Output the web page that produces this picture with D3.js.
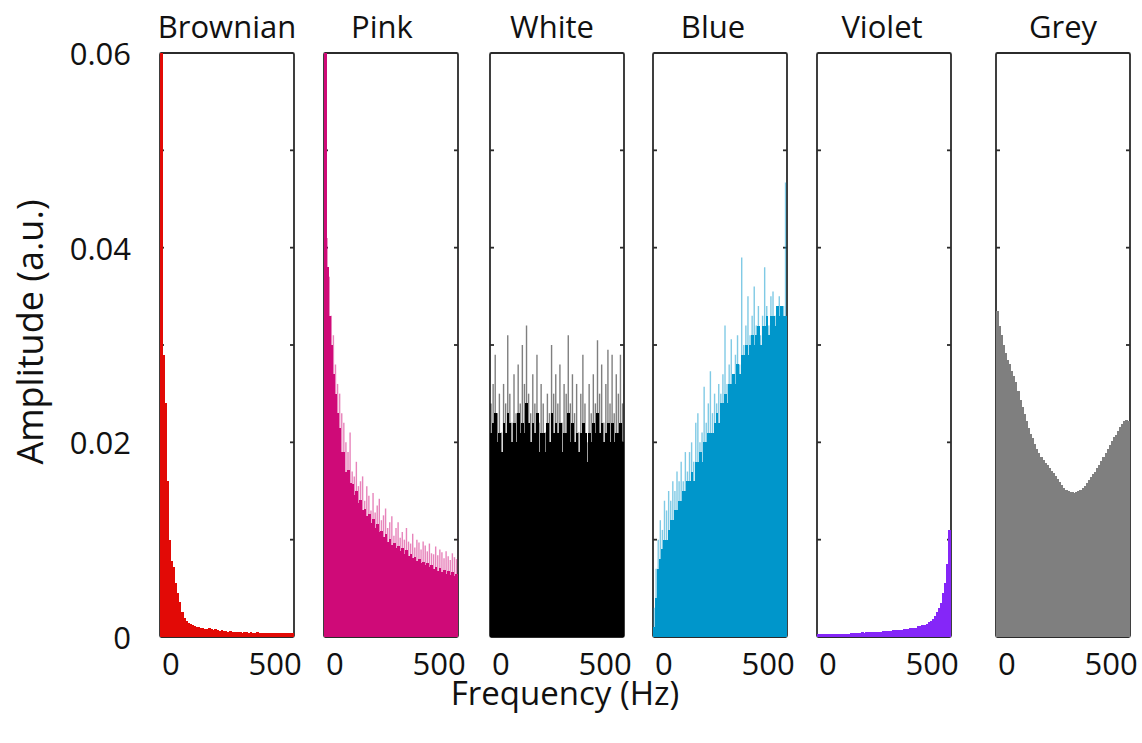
<!DOCTYPE html>
<html>
<head>
<meta charset="utf-8">
<script src="https://cdn.jsdelivr.net/npm/d3@7.9.0/dist/d3.min.js"></script>
<style>
  body { margin: 0; background: #fff; }
  text { font-family: "Open Sans", "DejaVu Sans", sans-serif; fill: #111; }
</style>
</head>
<body>
<svg id="chart" width="1142" height="743"></svg>
<script>
// spectra, one value per 10 Hz bin starting at -52 Hz
const binStart = -52;
const binStep = 10;

const brownian = [0.060, 0.029, 0.024, 0.016, 0.010, 0.0078, 0.0072, 0.0055, 0.0045, 0.0036,
  0.0026, 0.0020, 0.0016, 0.0014, 0.0013, 0.0012, 0.0011, 0.0010, 0.0010, 0.0009,
  0.0009, 0.0008, 0.0008, 0.0009, 0.0008, 0.0007, 0.0008, 0.0007, 0.0006, 0.0007,
  0.0006, 0.0006, 0.0005, 0.0006, 0.0005, 0.0005, 0.0005, 0.0005, 0.0005, 0.0004,
  0.0005, 0.0005, 0.0004, 0.0005, 0.0004, 0.0004, 0.0005, 0.0004, 0.0004, 0.0004,
  0.0004, 0.0004, 0.0004, 0.0004, 0.0004, 0.0004, 0.0004, 0.0004, 0.0004, 0.0004,
  0.0004, 0.0004, 0.0004, 0.0004, 0.0005];

const pinkPeak = [0.060, 0.041, 0.037, 0.033, 0.031, 0.028, 0.026, 0.025, 0.023, 0.022,
  0.020, 0.019, 0.021, 0.017, 0.0165, 0.018, 0.0155, 0.016, 0.0165, 0.014,
  0.0155, 0.0145, 0.013, 0.0148, 0.0128, 0.0135, 0.0142, 0.012, 0.0125, 0.0132,
  0.0112, 0.0118, 0.0124, 0.0104, 0.0112, 0.0118, 0.0102, 0.0108, 0.0100, 0.0112,
  0.0098, 0.0096, 0.0106, 0.0092, 0.0100, 0.0097, 0.0090, 0.0098, 0.0094, 0.0088,
  0.0096, 0.0086, 0.0085, 0.0093, 0.0084, 0.0090, 0.0087, 0.0081, 0.0088, 0.0083,
  0.0079, 0.0086, 0.0082, 0.0080, 0.0385];
const pinkBody = [0.060, 0.038, 0.033, 0.030, 0.027, 0.025, 0.023, 0.0215, 0.019, 0.019,
  0.017, 0.0172, 0.0158, 0.0157, 0.0146, 0.015, 0.0138, 0.0141, 0.013, 0.0132,
  0.0124, 0.0126, 0.0117, 0.0121, 0.0112, 0.0116, 0.0108, 0.0109, 0.0103, 0.0106,
  0.0098, 0.0101, 0.0095, 0.0097, 0.0091, 0.0094, 0.0088, 0.0091, 0.0085, 0.0089,
  0.0083, 0.0085, 0.0081, 0.0082, 0.0078, 0.0080, 0.0076, 0.0077, 0.0074, 0.0076,
  0.0072, 0.0074, 0.0070, 0.0072, 0.0068, 0.0071, 0.0067, 0.0069, 0.0065, 0.0068,
  0.0064, 0.0067, 0.0063, 0.0065, 0.0064];

const whitePeak = [0.024, 0.026, 0.029, 0.023, 0.025, 0.021, 0.026, 0.024, 0.031, 0.025,
  0.022, 0.027, 0.023, 0.028, 0.024, 0.030, 0.026, 0.032, 0.025, 0.023,
  0.027, 0.024, 0.029, 0.022, 0.026, 0.024, 0.021, 0.025, 0.023, 0.030,
  0.025, 0.027, 0.024, 0.028, 0.022, 0.026, 0.025, 0.031, 0.024, 0.027,
  0.023, 0.026, 0.021, 0.025, 0.029, 0.024, 0.020, 0.026, 0.023, 0.027,
  0.024, 0.0305, 0.025, 0.028, 0.022, 0.026, 0.0295, 0.024, 0.029, 0.023,
  0.027, 0.025, 0.029, 0.024, 0.026];
const whiteBody = [0.021, 0.022, 0.023, 0.020, 0.021, 0.019, 0.022, 0.021, 0.023, 0.022,
  0.020, 0.022, 0.020, 0.023, 0.021, 0.022, 0.021, 0.024, 0.022, 0.020,
  0.022, 0.021, 0.023, 0.019, 0.021, 0.021, 0.019, 0.022, 0.020, 0.023,
  0.021, 0.022, 0.021, 0.022, 0.019, 0.021, 0.021, 0.023, 0.020, 0.022,
  0.020, 0.021, 0.019, 0.021, 0.022, 0.021, 0.018, 0.021, 0.020, 0.022,
  0.021, 0.023, 0.021, 0.022, 0.020, 0.021, 0.022, 0.020, 0.022, 0.020,
  0.021, 0.021, 0.022, 0.020, 0.021];

const bluePeak = [0.003, 0.007, 0.010, 0.012, 0.011, 0.014, 0.013, 0.015, 0.014, 0.016,
  0.015, 0.017, 0.016, 0.018, 0.016, 0.019, 0.017, 0.019, 0.020, 0.018,
  0.022, 0.023, 0.020, 0.021, 0.0257, 0.022, 0.024, 0.0273, 0.023, 0.025,
  0.024, 0.026, 0.025, 0.027, 0.032, 0.026, 0.028, 0.0306, 0.027, 0.029,
  0.031, 0.028, 0.039, 0.030, 0.032, 0.035, 0.031, 0.033, 0.036, 0.032,
  0.034, 0.031, 0.033, 0.038, 0.034, 0.032, 0.035, 0.0355, 0.033, 0.034,
  0.035, 0.032, 0.034, 0.0467, 0.041];
const blueBody = [0.001, 0.004, 0.007, 0.008, 0.009, 0.010, 0.010, 0.011, 0.012, 0.012,
  0.013, 0.013, 0.014, 0.014, 0.015, 0.015, 0.016, 0.016, 0.017, 0.016,
  0.018, 0.018, 0.019, 0.018, 0.020, 0.020, 0.021, 0.021, 0.021, 0.022,
  0.023, 0.022, 0.024, 0.024, 0.025, 0.024, 0.026, 0.026, 0.027, 0.026,
  0.028, 0.027, 0.029, 0.029, 0.030, 0.029, 0.030, 0.031, 0.030, 0.031,
  0.032, 0.030, 0.032, 0.032, 0.033, 0.031, 0.033, 0.033, 0.032, 0.034,
  0.033, 0.034, 0.033, 0.033, 0.032];

const violet = [0.0003, 0.0003, 0.0003, 0.0003, 0.0003, 0.0003, 0.0003, 0.0003, 0.0003, 0.0003,
  0.0003, 0.0003, 0.0003, 0.0003, 0.0003, 0.0003, 0.0004, 0.0004, 0.0004, 0.0004,
  0.0004, 0.0005, 0.0004, 0.0005, 0.0005, 0.0005, 0.0005, 0.0005, 0.0005, 0.0005,
  0.0005, 0.0006, 0.0006, 0.0006, 0.0006, 0.0006, 0.0007, 0.0007, 0.0007, 0.0007,
  0.0007, 0.0008, 0.0008, 0.0008, 0.0009, 0.0009, 0.0009, 0.0009, 0.0011, 0.0011,
  0.0012, 0.0012, 0.0013, 0.0015, 0.0016, 0.0018, 0.0022, 0.0026, 0.0030, 0.0035,
  0.0045, 0.0055, 0.0075, 0.011, 0.060];

const grey = [0.0335, 0.032, 0.031, 0.030, 0.0292, 0.0285, 0.028, 0.0273, 0.0268, 0.0262,
  0.0253, 0.0244, 0.0236, 0.0229, 0.0222, 0.0215, 0.0209, 0.0204, 0.0198, 0.0193,
  0.0189, 0.0185, 0.0182, 0.0179, 0.0177, 0.0174, 0.0171, 0.0168, 0.0165, 0.0162,
  0.0159, 0.0156, 0.0153, 0.0151, 0.0150, 0.0149, 0.0149, 0.0148, 0.0149, 0.0150,
  0.0151, 0.0153, 0.0155, 0.0158, 0.0161, 0.0164, 0.0167, 0.0170, 0.0174, 0.0177,
  0.0181, 0.0185, 0.0189, 0.0193, 0.0197, 0.0201, 0.0205, 0.0208, 0.0212, 0.0216,
  0.0219, 0.0222, 0.0223, 0.0222, 0.0220];

const names = ['Brownian', 'Pink', 'White', 'Blue', 'Violet', 'Grey'];
const colors = ['#e20a06', '#cf0a78', '#000000', '#0096cb', '#8526f8', '#7f7f7f'];
const peaks = [null, pinkPeak, whitePeak, bluePeak, null, null];
const bodies = [brownian, pinkBody, whiteBody, blueBody, violet, grey];

const yTicks = [0, 0.02, 0.04, 0.06];
const xTicks = [0, 500];

// layout
const panelLeft = [160, 324, 490, 653, 817, 996];
const titleX = [227, 382, 552, 713, 882, 1063];
const panelW = 134;
const plotTop = 53, plotBottom = 637;

const svg = d3.select('#chart');
const y = d3.scaleLinear().domain([0, 0.06]).range([plotBottom, plotTop]);

// y tick labels
svg.append('g')
  .selectAll('text')
  .data(yTicks)
  .join('text')
  .attr('x', 131)
  .attr('y', d => y(d))
  .attr('text-anchor', 'end')
  .attr('dominant-baseline', 'central')
  .attr('font-size', 31)
  .text(d => d === 0 ? '0' : d3.format('.2f')(d));

names.forEach((name, p) => {
  const x = d3.scaleLinear().domain([-52, 590]).range([panelLeft[p], panelLeft[p] + panelW]);
  const g = svg.append('g');

  const clipId = 'clip' + p;
  svg.append('clipPath').attr('id', clipId)
    .append('rect')
    .attr('x', panelLeft[p]).attr('y', plotTop - 2)
    .attr('width', panelW).attr('height', plotBottom - plotTop + 2);

  // frame
  g.append('rect')
    .attr('x', panelLeft[p]).attr('y', plotTop)
    .attr('width', panelW).attr('height', plotBottom - plotTop)
    .attr('rx', 1.5)
    .attr('fill', 'none')
    .attr('stroke', '#2b2b2b')
    .attr('stroke-width', 1.8);

  // inward ticks on both sides
  const tickVals = d3.range(1, 6).map(k => k * 0.01);
  g.append('g').selectAll('line')
    .data(tickVals.flatMap(v => [[0, v], [1, v]]))
    .join('line')
    .attr('x1', d => d[0] ? panelLeft[p] + panelW : panelLeft[p])
    .attr('x2', d => d[0] ? panelLeft[p] + panelW - 4 : panelLeft[p] + 4)
    .attr('y1', d => y(d[1]))
    .attr('y2', d => y(d[1]))
    .attr('stroke', '#2b2b2b')
    .attr('stroke-width', 1.8);

  const data = g.append('g').attr('clip-path', `url(#${clipId})`);

  // light spikes: thin lines at each bin
  if (peaks[p]) {
    data.append('g')
      .attr('stroke', colors[p])
      .attr('stroke-opacity', 0.5)
      .attr('stroke-width', 1.4)
      .selectAll('line')
      .data(peaks[p])
      .join('line')
      .attr('x1', (d, i) => x(binStart + (i + 0.5) * binStep))
      .attr('x2', (d, i) => x(binStart + (i + 0.5) * binStep))
      .attr('y1', d => y(d))
      .attr('y2', y(0));
  }

  // solid body
  data.append('g')
    .attr('fill', colors[p])
    .attr('shape-rendering', 'crispEdges')
    .selectAll('rect')
    .data(bodies[p])
    .join('rect')
    .attr('x', (d, i) => x(binStart + i * binStep))
    .attr('width', (d, i) => x(binStart + (i + 1) * binStep) - x(binStart + i * binStep) + 0.6)
    .attr('y', d => y(d))
    .attr('height', d => y(0) - y(d) + 1);

  // title
  svg.append('text')
    .attr('x', titleX[p])
    .attr('y', 38)
    .attr('text-anchor', 'middle')
    .attr('font-size', 31)
    .text(name);

  // x tick labels
  svg.append('g').selectAll('text')
    .data(xTicks)
    .join('text')
    .attr('x', d => x(d))
    .attr('y', 675)
    .attr('text-anchor', 'middle')
    .attr('font-size', 31)
    .text(d => d);
});

svg.append('text')
  .attr('x', 565)
  .attr('y', 705)
  .attr('text-anchor', 'middle')
  .attr('font-size', 33)
  .text('Frequency (Hz)');

svg.append('text')
  .attr('transform', 'translate(43,332) rotate(-90)')
  .attr('text-anchor', 'middle')
  .attr('font-size', 36)
  .text('Amplitude (a.u.)');
</script>
</body>
</html>
